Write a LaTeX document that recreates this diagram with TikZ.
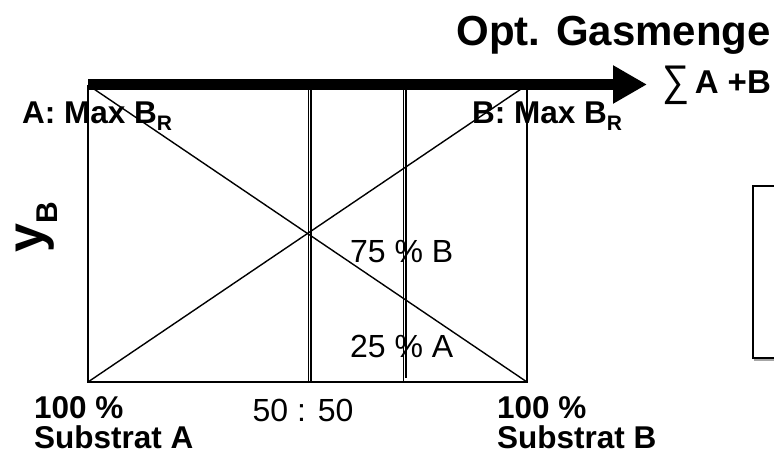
\documentclass[tikz,border=0pt]{standalone}
\usepackage{fontspec}
\setmainfont{Liberation Sans}
\usetikzlibrary{arrows.meta}
\newcommand\mysubR{\raisebox{-7pt}{\fontsize{21}{24}\selectfont R}}
\begin{document}
\begin{tikzpicture}[x=1pt,y=-1pt,
  thinline/.style={line width=1.4pt},
  boldlab/.style={font=\fontsize{31.5}{36}\selectfont\bfseries, inner sep=0pt},
  normlab/.style={font=\fontsize{32}{36}\selectfont, inner sep=0pt},
  tight/.style={text height=22pt, text depth=0pt},
]
\useasboundingbox (0,0) rectangle (774,454);
% frame corners
\coordinate (TL) at (88,85);
\coordinate (TR) at (527,85);
\coordinate (BL) at (88,382);
\coordinate (BR) at (527,382);
\coordinate (axL) at (88,84.5);
\coordinate (axR) at (647,84.5);
% diagonals
\draw[line width=1.4pt] (TL) -- (BR);
\draw[line width=1.4pt] (BL) -- (TR);
% frame
\draw[thinline] (TL) -- (BL) -- (BR) -- (TR);
% vertical double lines
\coordinate (v1t) at (308.5,90); \coordinate (v1b) at (308.5,382);
\coordinate (v1t') at (311,90); \coordinate (v1b') at (311,382);
\coordinate (v2t) at (403.5,90); \coordinate (v2b) at (403.5,382);
\coordinate (v2t') at (406,90); \coordinate (v2b') at (406,378);
\draw[line width=1.5pt] (v1t) -- (v1b);
\draw[line width=1.3pt] (v1t') -- (v1b');
\draw[line width=1.5pt] (v2t) -- (v2b);
\draw[line width=1.3pt] (v2t') -- (v2b');
% axis arrow
\draw[line width=11.5pt, -{Triangle[length=34pt,width=36pt]}] (axL) -- (axR);
% labels
\node[font=\fontsize{42}{48}\selectfont\bfseries, inner sep=0pt, anchor=base east] (title) at (771,46) {Opt. Gasmenge};
\node[font=\fontsize{33}{36}\selectfont\bfseries, inner sep=0pt, anchor=base west] (sum) at (662,94) {\raisebox{-2pt}{\scalebox{1.15}[1.3]{\mdseries ∑}}\,A +B};
\node[boldlab, anchor=base west] (amax) at (22,124) {A: Max B\mysubR};
\node[boldlab, anchor=base west] (bmax) at (472,124) {B: Max B\mysubR};
\node[font=\fontsize{52}{56}\selectfont\bfseries, inner sep=0pt, rotate=90, anchor=base west] (yb) at (43,253) {y\raisebox{-14pt}{\fontsize{30}{32}\selectfont B}};
\node[normlab, anchor=base west] (p75) at (350,263) {75 \% B};
\node[normlab, anchor=base west] (p25) at (350,358) {25 \% A};
\node[normlab, anchor=base] (mid) at (303,421) {50 : 50};
\node[boldlab, tight, anchor=base west] (hA) at (34,418) {100 \%};
\node[boldlab, tight, anchor=base west] (sA) at (34,448) {Substrat A};
\node[boldlab, tight, anchor=base west] (hB) at (497,418) {100 \%};
\node[boldlab, tight, anchor=base west] (sB) at (497,448) {Substrat B};
% legend box (cut off at the right edge)
\draw[gray!70, line width=2pt] (754,360) -- (780,360);
\draw[line width=1.3pt, fill=white] (780,186) -- (753,186) -- (753,358) -- (780,358);
\end{tikzpicture}
\end{document}
